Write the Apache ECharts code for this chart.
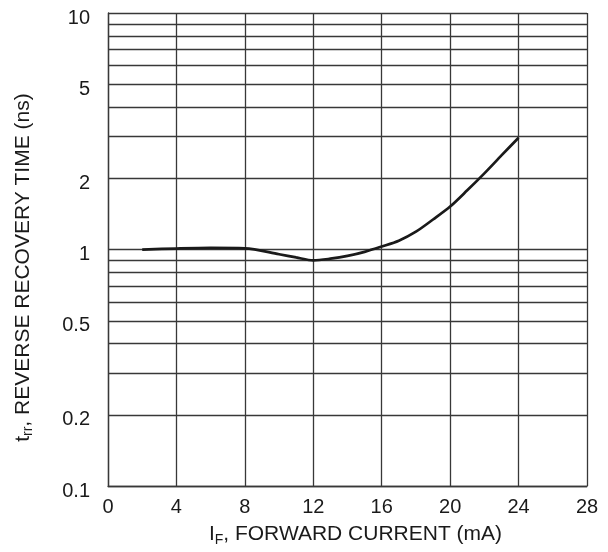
<!DOCTYPE html>
<html>
<head>
<meta charset="utf-8">
<script src="https://cdn.jsdelivr.net/npm/echarts@6/dist/echarts.min.js"></script>
<style>
  html, body { margin: 0; padding: 0; background: #fff; }
  #chart { width: 608px; height: 552px; }
</style>
</head>
<body>
<div id="chart"></div>
<script>
// forward current (mA) and reverse recovery time (ns)
var current = [2, 4, 6, 8, 10, 11, 12, 13, 14, 15, 16, 17, 18, 19, 20, 21, 22, 23, 24];
var trr = [1.0, 1.01, 1.016, 1.012, 0.955, 0.926, 0.9, 0.915, 0.94, 0.978, 1.03, 1.09, 1.19, 1.34, 1.52, 1.78, 2.1, 2.5, 2.97];

// minor log grid lines, and which of them carry a label
var minorLines = [0.2, 0.3, 0.4, 0.5, 0.6, 0.7, 0.8, 0.9, 2, 3, 4, 5, 6, 7, 8, 9];
var minorLabels = [0.2, 0.5, 2, 5];

var ink = '#1a1a1a';
var gridColor = '#383838';
var font = 'Liberation Sans, Arial, sans-serif';

var chart = echarts.init(document.getElementById('chart'), null, { renderer: 'canvas' });

var points = current.map(function (x, i) { return [x, trr[i]]; });
var gridData = minorLines.map(function (v) {
  var labelled = minorLabels.indexOf(v) >= 0;
  return {
    yAxis: v,
    label: { show: labelled, formatter: String(v) }
  };
});

var nameRich = {
  a: { fontSize: 21, fontFamily: font, color: ink, lineHeight: 24 },
  s: { fontSize: 14, fontFamily: font, color: ink, lineHeight: 24, padding: [11, 0, 0, 0] }
};

chart.setOption({
  animation: false,
  grid: { left: 108, right: 21, top: 13, bottom: 62 },
  xAxis: {
    type: 'value',
    min: 0,
    max: 28,
    interval: 4,
    name: '{a|I}{s|F}{a|, FORWARD CURRENT (mA)}',
    nameLocation: 'middle',
    nameGap: 31,
    nameTextStyle: { padding: [0, 0, 0, 16], rich: nameRich },
    axisLine: { show: true, lineStyle: { color: gridColor, width: 1.3 } },
    axisTick: { show: false },
    axisLabel: { fontSize: 20, fontFamily: font, color: ink, margin: 11 },
    splitLine: { show: true, lineStyle: { color: gridColor, width: 1.3 } }
  },
  yAxis: {
    type: 'log',
    logBase: 10,
    min: 0.1,
    max: 10,
    name: '{a|t}{s|rr}{a|, REVERSE RECOVERY TIME (ns)}',
    nameLocation: 'middle',
    nameGap: 73,
    nameTextStyle: { padding: [0, 36, 0, 0], rich: nameRich },
    axisLine: { show: true, lineStyle: { color: gridColor, width: 1.3 } },
    axisTick: { show: false },
    axisLabel: {
      fontSize: 20, fontFamily: font, color: ink, margin: 18,
      verticalAlign: 'top', lineHeight: 10
    },
    splitLine: { show: true, lineStyle: { color: gridColor, width: 1.3 } }
  },
  series: [{
    type: 'line',
    data: points,
    smooth: 0.3,
    showSymbol: false,
    symbol: 'none',
    lineStyle: { color: ink, width: 2.7 },
    z: 5,
    markLine: {
      silent: true,
      symbol: 'none',
      animation: false,
      lineStyle: { color: gridColor, width: 1.3, type: 'solid' },
      label: {
        position: 'start',
        distance: 18,
        fontSize: 20,
        fontFamily: font,
        color: ink,
        verticalAlign: 'top',
        lineHeight: 10
      },
      data: gridData
    }
  }]
});
</script>
</body>
</html>
